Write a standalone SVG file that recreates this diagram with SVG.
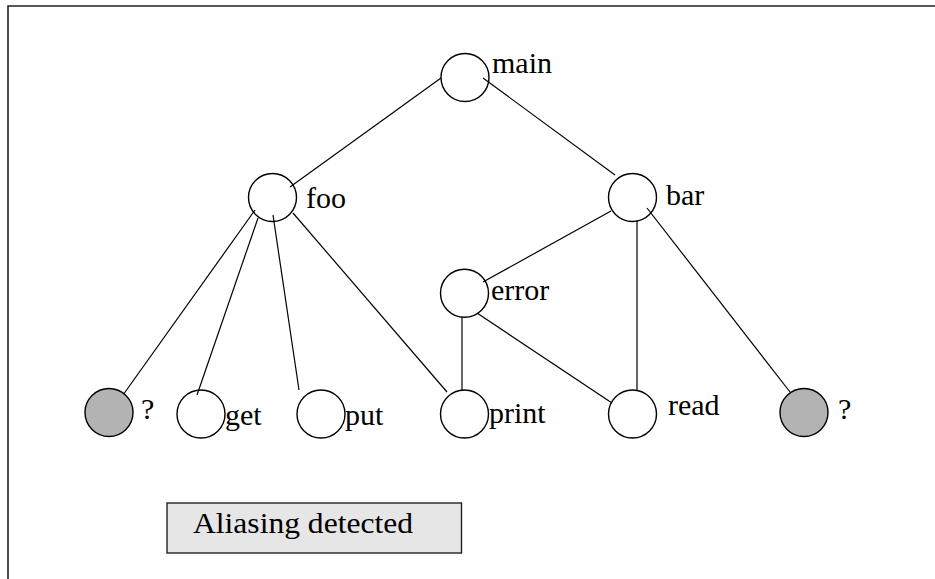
<svg xmlns="http://www.w3.org/2000/svg" width="935" height="579" viewBox="0 0 935 579">
<style>
.e{stroke:#000;stroke-width:1.2;fill:none}
.n{fill:none;stroke:#000;stroke-width:1.4}
.g{fill:#b3b3b3;stroke:#000;stroke-width:1.4}
text{font-family:"Times New Roman",Times,Tinos,"Liberation Serif","DejaVu Serif","Noto Serif",serif;font-size:30px;fill:#000}
</style>
<rect width="935" height="579" fill="#fff"/>
<path d="M8,582 V6 H938" fill="none" stroke="#222" stroke-width="1.6"/>
<g id="connectors">
<line class="e" x1="441" y1="78" x2="290" y2="187"/>
<line class="e" x1="483" y1="78" x2="615" y2="175"/>
<line class="e" x1="255" y1="210" x2="123" y2="395"/>
<line class="e" x1="258" y1="218" x2="197" y2="395"/>
<line class="e" x1="273" y1="215" x2="299" y2="390"/>
<line class="e" x1="293" y1="213" x2="447" y2="392"/>
<line class="e" x1="483" y1="282" x2="611" y2="211"/>
<line class="e" x1="637" y1="220" x2="637" y2="390"/>
<line class="e" x1="647" y1="208" x2="790" y2="392"/>
<line class="e" x1="462" y1="317" x2="462" y2="390"/>
<line class="e" x1="477" y1="313" x2="612" y2="403"/>
</g>
<g id="main"><circle class="n" cx="465" cy="77.5" r="24"/><text x="492" y="73">main</text></g>
<g id="foo"><circle class="n" cx="272.5" cy="197.5" r="24"/><text x="306" y="208">foo</text></g>
<g id="bar"><circle class="n" cx="632.5" cy="197.5" r="24"/><text x="666" y="205">bar</text></g>
<g id="error"><circle class="n" cx="464.5" cy="293.3" r="24"/><text x="491" y="300">error</text></g>
<g id="unknown1"><circle class="g" cx="109" cy="412.5" r="24"/><text x="141" y="419">?</text></g>
<g id="get"><circle class="n" cx="201" cy="414" r="24"/><text x="225" y="425">get</text></g>
<g id="put"><circle class="n" cx="321" cy="414" r="24"/><text x="345" y="425">put</text></g>
<g id="print"><circle class="n" cx="464.5" cy="414" r="24"/><text x="489" y="423">print</text></g>
<g id="read"><circle class="n" cx="632.5" cy="414" r="24"/><text x="668" y="415">read</text></g>
<g id="unknown2"><circle class="g" cx="804" cy="412.5" r="24"/><text x="838" y="419">?</text></g>
<g id="status"><rect x="167" y="503" width="294.5" height="50" fill="#e6e6e6" stroke="#222" stroke-width="1.4"/><text x="193" y="533" textLength="220" lengthAdjust="spacingAndGlyphs">Aliasing detected</text></g>
</svg>
